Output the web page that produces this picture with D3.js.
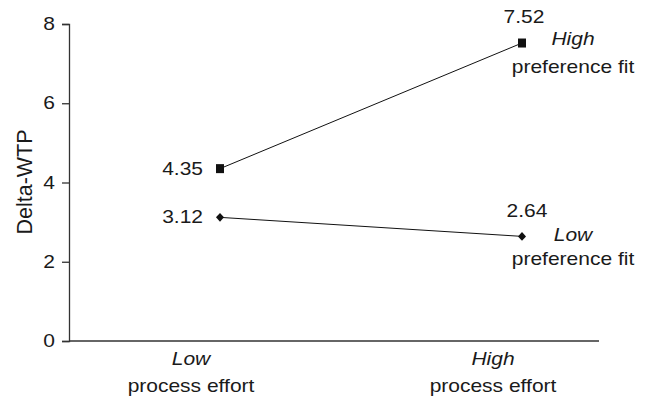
<!DOCTYPE html>
<html>
<head>
<meta charset="utf-8">
<script src="https://cdn.jsdelivr.net/npm/d3@7"></script>
<style>
  html, body { margin: 0; padding: 0; background: #fff; }
  svg { display: block; }
  text { font-family: "Liberation Sans", Arial, Helvetica, sans-serif; fill: #1a1a1a; }
</style>
</head>
<body>
<svg id="chart" width="645" height="396"></svg>
<script>
// ---- data ----
const categories = ["Low", "High"];
const categoryLabels = ["process effort", "process effort"];
const highFit = [4.35, 7.52];
const lowFit = [3.12, 2.64];
const yTicks = [0, 2, 4, 6, 8];
const seriesNames = ["High", "Low"];
const seriesSub = "preference fit";
const yTitle = "Delta-WTP";

// ---- layout ----
const axisLeftX = 69, axisRightX = 599;
const yTop = 24, yBottom = 341;
const FS = 17.5, SX = 1.2;

const svg = d3.select("#chart");

const x = d3.scalePoint().domain(categories).range([220, 522]);
const y = d3.scaleLinear().domain([0, 8]).range([yBottom, yTop]);

function stretchedText(parent, tx, ty, str, anchor, opts = {}) {
  const g = parent.append("g").attr("transform", `translate(${tx},${ty}) scale(${SX},1)`);
  const t = g.append("text")
    .attr("x", 0).attr("y", 0)
    .attr("text-anchor", anchor)
    .style("font-size", (opts.size || FS) + "px")
    .text(str);
  if (opts.italic) t.style("font-style", "italic");
  return t;
}

// y axis
const yAxis = svg.append("g")
  .attr("transform", `translate(${axisLeftX},0)`)
  .call(d3.axisLeft(y).tickValues(yTicks).tickSize(7).tickPadding(7).tickFormat(d3.format("d")));
yAxis.select(".domain").attr("stroke", "#333").attr("stroke-width", 1.3);
yAxis.selectAll(".tick line").attr("stroke", "#333").attr("stroke-width", 1.3);
yAxis.selectAll(".tick text")
  .attr("x", -14 / SX)
  .attr("transform", `scale(${SX},1)`)
  .style("font-size", FS + "px")
  .style("font-family", '"Liberation Sans", Arial, sans-serif')
  .attr("fill", "#1a1a1a");

// x axis line
svg.append("line")
  .attr("x1", axisLeftX).attr("x2", axisRightX)
  .attr("y1", y(0)).attr("y2", y(0))
  .attr("stroke", "#333").attr("stroke-width", 1.3);

// y title
svg.append("text")
  .attr("transform", `translate(31.5,182) rotate(-90)`)
  .attr("text-anchor", "middle")
  .style("font-size", "21.5px")
  .text(yTitle);

// category labels
categories.forEach((c, i) => {
  stretchedText(svg, x(c) - 29, 365, c, "middle", { italic: true });
  stretchedText(svg, x(c) - 29, 392, categoryLabels[i], "middle");
});

// lines
const line = d3.line().x((d, i) => x(categories[i])).y(d => y(d));
[highFit, lowFit].forEach(s => {
  svg.append("path")
    .attr("d", line(s))
    .attr("fill", "none")
    .attr("stroke", "#111")
    .attr("stroke-width", 1);
});

// markers
svg.selectAll(".sq").data(highFit).enter().append("rect")
  .attr("x", (d, i) => x(categories[i]) - 4)
  .attr("y", d => y(d) - 4.5)
  .attr("width", 8).attr("height", 9)
  .attr("fill", "#111");

svg.selectAll(".dm").data(lowFit).enter().append("rect")
  .attr("x", -3).attr("y", -3)
  .attr("width", 6).attr("height", 6)
  .attr("transform", (d, i) => `translate(${x(categories[i])},${y(d)}) scale(0.95,1.05) rotate(45)`)
  .attr("fill", "#111");

// value labels
stretchedText(svg, x(categories[0]) - 17, y(highFit[0]) + 6, highFit[0].toFixed(2), "end");
stretchedText(svg, x(categories[0]) - 17, y(lowFit[0]) + 6, lowFit[0].toFixed(2), "end");
stretchedText(svg, x(categories[1]) + 2, y(highFit[1]) - 20, highFit[1].toFixed(2), "middle");
stretchedText(svg, x(categories[1]) + 5, y(lowFit[1]) - 19, lowFit[1].toFixed(2), "middle");

// series labels
stretchedText(svg, 573, y(highFit[1]) + 1.5, seriesNames[0], "middle", { italic: true });
stretchedText(svg, 573, y(highFit[1]) + 30, seriesSub, "middle");
stretchedText(svg, 573, y(lowFit[1]) + 5, seriesNames[1], "middle", { italic: true });
stretchedText(svg, 573, y(lowFit[1]) + 29, seriesSub, "middle");
</script>
</body>
</html>
